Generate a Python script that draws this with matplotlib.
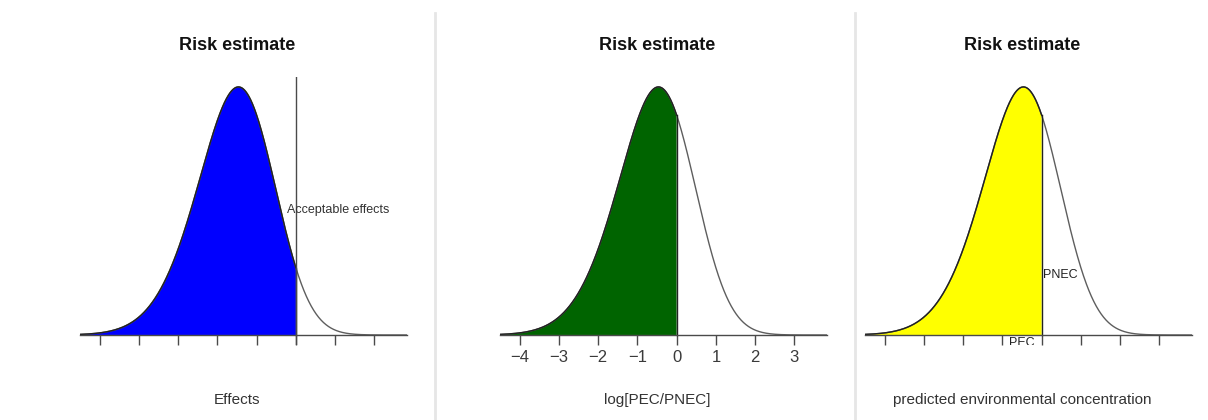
import math
import numpy as np
import matplotlib
matplotlib.use("Agg")
import matplotlib.pyplot as plt

plt.rcParams["font.family"] = ["Liberation Sans", "DejaVu Sans"]

# values (curve heights are relative to the peak)
tick_values = [-4, -3, -2, -1, 0, 1, 2, 3]
skew_loc = 0.25
skew_scale = 1.32
skew_shape = -1.4
x_range = (-4.5, 3.83)
y_range = (-0.0404, 1.040)

titles = ["Risk estimate", "Risk estimate", "Risk estimate"]
xlabels = ["Effects", "log[PEC/PNEC]", "predicted environmental concentration"]
fill_colors = ["#0000ff", "#006400", "#ffff00"]
cut_points = [1.0, 0.0, 0.0]
show_tick_labels = [False, True, False]

LINE = "#4a4a4a"
CURVE = "#5e5e5e"
_erf = np.vectorize(math.erf)


def skew_curve(x):
    z = (np.asarray(x, dtype=float) - skew_loc) / skew_scale
    return np.exp(-0.5 * z * z) * (1 + _erf(skew_shape * z / np.sqrt(2)))


W, H = 1208, 420
fig = plt.figure(figsize=(W / 100, H / 100), dpi=100)

axes_left_px = [80, 500, 865]
ax_w, ax_h = 327, 268
ax_bottom_px = 345

xs = np.linspace(x_range[0], x_range[1], 800)
peak = skew_curve(np.linspace(-3, 2, 5001)).max()
ys = skew_curve(xs) / peak

for i, left in enumerate(axes_left_px):
    ax = fig.add_axes([left / W, (H - ax_bottom_px) / H, ax_w / W, ax_h / H])
    ax.set_xlim(*x_range)
    ax.set_ylim(*y_range)
    for side in ["top", "right", "left"]:
        ax.spines[side].set_visible(False)
    ax.spines["bottom"].set_position(("data", 0))
    ax.spines["bottom"].set_color(LINE)
    ax.spines["bottom"].set_linewidth(1.0)
    ax.set_yticks([])
    ax.set_xticks(tick_values)
    ax.tick_params(axis="x", direction="out", length=7, width=1, color=LINE,
                   labelsize=12, labelcolor="#3a3a3a", pad=4)
    if not show_tick_labels[i]:
        ax.set_xticklabels([])

    cut = cut_points[i]
    cut_h = float(skew_curve(cut)) / peak
    mask = xs <= cut
    xf = np.append(xs[mask], cut)
    yf = np.append(ys[mask], cut_h)
    ax.fill_between(xf, 0, yf, facecolor=fill_colors[i], edgecolor="none")
    ax.plot(xs, ys, color=CURVE, lw=1.0)
    ax.plot(xf, yf, color="#222222", lw=1.0)
    ax.plot([cut, cut], [0, cut_h], color="#222222", lw=1.0)

    ax.text(0.48, 1.119, titles[i], transform=ax.transAxes, ha="center", va="center",
            fontsize=13, fontweight="bold", color="#111111")
    ax.text(0.48, -0.205, xlabels[i], transform=ax.transAxes, ha="center", va="center",
            fontsize=11, color="#333333")

    if i == 0:
        ax.axvline(cut, color=LINE, lw=1.0)
        ax.text(2.07, 0.504, "Acceptable effects", ha="center", va="center",
                fontsize=9, color="#333333")
    if i == 2:
        ax.text(cut + 0.03, 0.242, "PNEC", ha="left", va="center",
                fontsize=9, color="#222222")
        ax.text(-0.5, -0.008, "PEC", ha="center", va="top", fontsize=9,
                color="#222222", clip_on=True)

# light separators between the panels
for xpx in [435, 855]:
    fig.add_artist(plt.Line2D([xpx / W, xpx / W], [0, 1 - 13 / H], color="#e6e6e6", lw=2))

fig.savefig("out.png", dpi=100)
